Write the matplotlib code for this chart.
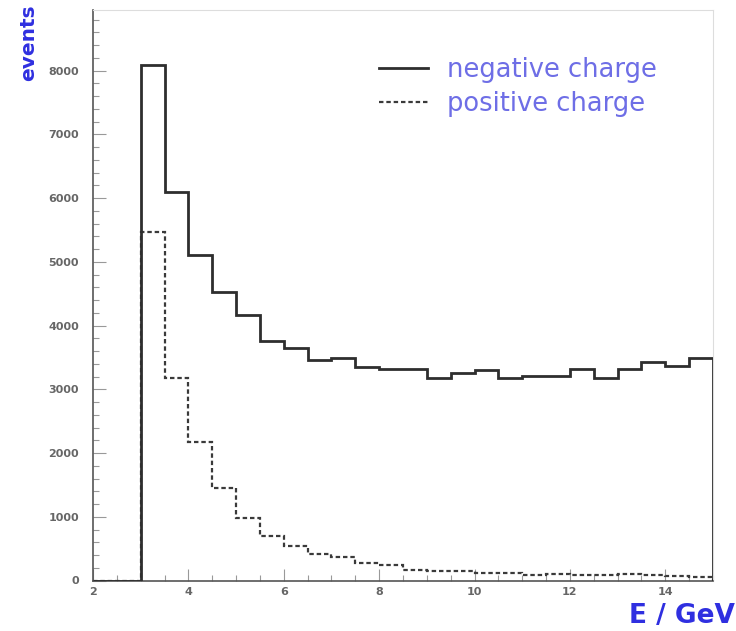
import numpy as np
import matplotlib
matplotlib.use("Agg")
import matplotlib.pyplot as plt
from matplotlib.ticker import MultipleLocator

# bin edges (GeV)
bin_edges = [2.0, 2.5, 3.0, 3.5, 4.0, 4.5, 5.0, 5.5, 6.0, 6.5, 7.0, 7.5, 8.0, 8.5,
             9.0, 9.5, 10.0, 10.5, 11.0, 11.5, 12.0, 12.5, 13.0, 13.5, 14.0, 14.5, 15.0]

negative_counts = [0, 0, 8080, 6100, 5100, 4530, 4165, 3754, 3650, 3467, 3487, 3353,
                   3321, 3321, 3172, 3260, 3295, 3172, 3210, 3210, 3320, 3180, 3325,
                   3420, 3370, 3490]
positive_counts = [0, 0, 5460, 3180, 2170, 1445, 975, 702, 545, 415, 364, 277,
                   240, 160, 154, 154, 122, 122, 80, 105, 90, 90, 100, 85, 70, 50]

labels = ["negative charge", "positive charge"]

W, H = 736, 631
fig = plt.figure(figsize=(W / 100, H / 100), dpi=100)
ax = fig.add_axes([93 / W, 1 - 580.5 / H, (713 - 93) / W, (580.5 - 10) / H])

ax.stairs(positive_counts, bin_edges, baseline=0, color="#3a3a3a", lw=1.6,
          linestyle=(0, (2.0, 1.3)), label=labels[1], zorder=2)
ax.stairs(negative_counts, bin_edges, baseline=0, color="#2e2e2e", lw=2.0,
          label=labels[0], zorder=3)

ax.set_xlim(2, 15)
ax.set_ylim(0, 8950)
ax.xaxis.set_major_locator(MultipleLocator(2))
ax.xaxis.set_minor_locator(MultipleLocator(0.5))
ax.yaxis.set_major_locator(MultipleLocator(1000))
ax.yaxis.set_minor_locator(MultipleLocator(200))
ax.tick_params(which="both", direction="in", color="#999999", labelcolor="#666666",
               labelsize=8, top=False, right=False)
ax.tick_params(which="major", length=9, width=0.8)
ax.tick_params(which="minor", length=4.5, width=0.8)
ax.tick_params(axis="y", which="major", pad=10)
ax.tick_params(axis="x", which="major", pad=5)
for lab in ax.get_xticklabels() + ax.get_yticklabels():
    lab.set_fontweight("bold")

for s in ["left", "bottom"]:
    ax.spines[s].set_color("#555555")
    ax.spines[s].set_linewidth(1.2)
for s in ["top", "right"]:
    ax.spines[s].set_color("#dddddd")
    ax.spines[s].set_linewidth(0.8)

# legend
h, l = ax.get_legend_handles_labels()
order = [1, 0]
leg = ax.legend([h[i] for i in order], [l[i] for i in order],
                loc="upper left", bbox_to_anchor=(356 / W, 1 - 34 / H),
                bbox_transform=fig.transFigure, frameon=False, fontsize=18.5,
                handlelength=1.9, handletextpad=0.75, labelspacing=0.3)
for t in leg.get_texts():
    t.set_color("#6e6ee6")

fig.text(19 / W, 1 - 4 / H, "events", rotation=90, ha="left", va="top",
         color="#2f2fe0", fontsize=14.5, fontweight="bold")
fig.text(735 / W, 1 - 616 / H, "E / GeV", ha="right", va="center",
         color="#2f2fe0", fontsize=19, fontweight="bold")

fig.savefig("out.png", dpi=100)
